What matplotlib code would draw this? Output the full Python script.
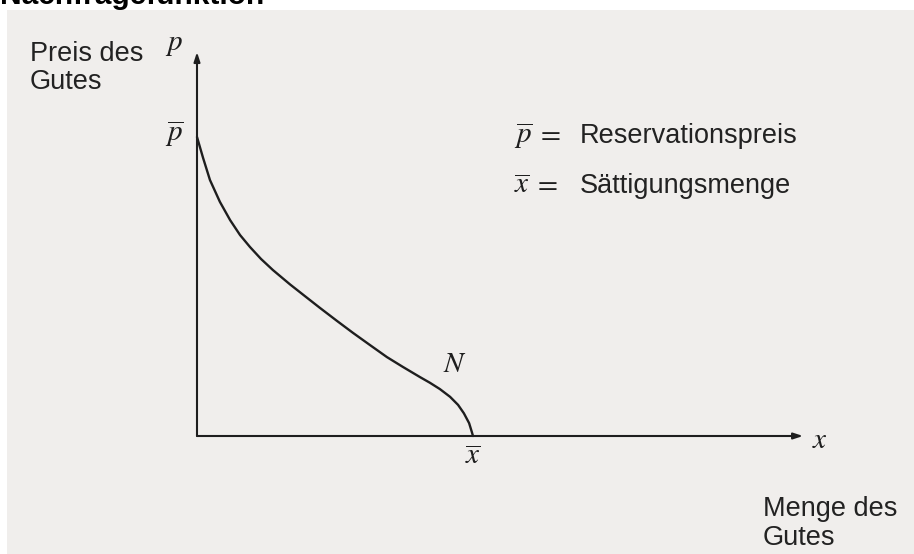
import matplotlib
matplotlib.use("Agg")
import matplotlib.pyplot as plt
from matplotlib.patches import Rectangle

plt.rcParams["mathtext.fontset"] = "stix"

# Demand curve N: quantity x (in units of the saturation quantity) vs. price p
# (in units of the reservation price)
demand_x = [0.000, 0.022, 0.047, 0.083, 0.120, 0.156, 0.192, 0.232, 0.275,
            0.337, 0.399, 0.446, 0.507, 0.565, 0.627, 0.688, 0.746, 0.808,
            0.844, 0.880, 0.917, 0.946, 0.967, 0.986, 0.996, 1.000]
demand_p = [1.000, 0.930, 0.856, 0.783, 0.722, 0.672, 0.632, 0.592, 0.555,
            0.507, 0.462, 0.428, 0.385, 0.345, 0.304, 0.264, 0.231, 0.197,
            0.178, 0.157, 0.131, 0.104, 0.076, 0.043, 0.013, 0.000]

x_saturation = 1.0      # x-bar
p_reservation = 1.0     # p-bar
x_axis_end = 2.196
p_axis_end = 1.284

W, H = 914, 554
fig = plt.figure(figsize=(W / 100, H / 100), dpi=100)
fig.patch.set_facecolor("white")

# paper-coloured sheet behind the drawing
fig.patches.append(Rectangle((7 / W, 0), 1 - 7 / W, (H - 10) / H,
                             transform=fig.transFigure, facecolor="#f0eeec",
                             edgecolor="none", zorder=-5))

ax = fig.add_axes([0, 0, 1, 1])
ax.set_facecolor("none")
ax.set_xlim(-0.7138, 2.598)
ax.set_ylim(-0.3946, 1.458)
ax.axis("off")

ink = "#1e1e1e"

# coordinate axes with arrow heads
arrow = dict(arrowstyle="-|>,head_length=0.55,head_width=0.18", color=ink,
             lw=1.5, shrinkA=0, shrinkB=0)
ax.annotate("", xy=(0, p_axis_end), xytext=(0, 0), arrowprops=arrow)
ax.annotate("", xy=(x_axis_end, 0), xytext=(0, 0), arrowprops=arrow)

# demand curve
ax.plot(demand_x, demand_p, color=ink, lw=1.7, solid_capstyle="round",
        solid_joinstyle="round")


def px(x, y):
    return (x / W, 1 - y / H)


sans = "Liberation Sans"
fs_sans = 19.5
fs_math = 21

fig.text(*px(0, 4), "Nachfragefunktion", family=sans, weight="bold",
         fontsize=21.5, va="baseline", ha="left", color="black")

fig.text(*px(30, 61), "Preis des", family=sans, fontsize=fs_sans,
         va="baseline", color="#222222")
fig.text(*px(30, 89), "Gutes", family=sans, fontsize=fs_sans,
         va="baseline", color="#222222")

fig.text(*px(763, 516), "Menge des", family=sans, fontsize=fs_sans,
         va="baseline", color="#222222")
fig.text(*px(763, 545), "Gutes", family=sans, fontsize=fs_sans,
         va="baseline", color="#222222")

# math symbols next to the axes and curve
ax.annotate(r"$p$", xy=(0, p_axis_end), xytext=(-32, 2),
            textcoords="offset pixels", fontsize=fs_math, ha="left",
            va="baseline", color=ink)
ax.annotate(r"$\overline{p}$", xy=(0, p_reservation), xytext=(-32, -4),
            textcoords="offset pixels", fontsize=fs_math, ha="left",
            va="baseline", color=ink)
ax.annotate(r"$\overline{x}$", xy=(x_saturation, 0), xytext=(0, -28),
            textcoords="offset pixels", fontsize=fs_math, ha="center",
            va="baseline", color=ink)
ax.annotate(r"$x$", xy=(x_axis_end, 0), xytext=(9, -12),
            textcoords="offset pixels", fontsize=fs_math, ha="left",
            va="baseline", color=ink)
ax.annotate(r"$N$", xy=(0.891, 0.214), fontsize=fs_math, ha="left",
            va="baseline", color=ink)

# definitions
fig.text(*px(514, 143), r"$\overline{p}\;=$", fontsize=fs_math,
         va="baseline", color=ink)
fig.text(*px(580, 143), "Reservationspreis", family=sans, fontsize=fs_sans,
         va="baseline", color="#222222")
fig.text(*px(514, 193), r"$\overline{x}\;=$", fontsize=fs_math,
         va="baseline", color=ink)
fig.text(*px(580, 193), "Sättigungsmenge", family=sans, fontsize=fs_sans,
         va="baseline", color="#222222")

fig.savefig("out.png", dpi=100, facecolor=fig.get_facecolor())
